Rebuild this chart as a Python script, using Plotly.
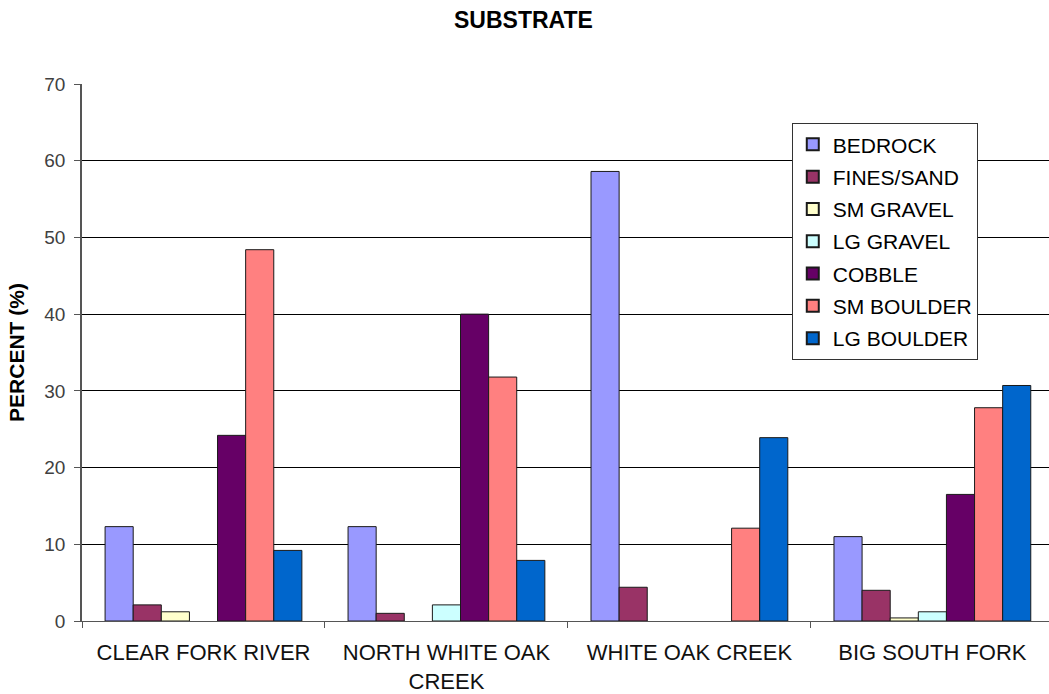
import plotly.graph_objects as go

# Sites along the x axis (line breaks as printed under the axis)
sites = ["CLEAR FORK RIVER", "NORTH WHITE OAK<br>CREEK", "WHITE OAK CREEK", "BIG SOUTH FORK"]

# Percent of each substrate class per site
bedrock = [12.3, 12.3, 58.6, 11.0]
fines_sand = [2.1, 1.0, 4.4, 4.0]
sm_gravel = [1.2, 0.0, 0.0, 0.4]
lg_gravel = [0.0, 2.1, 0.0, 1.2]
cobble = [24.2, 40.0, 0.0, 16.5]
sm_boulder = [48.4, 31.8, 12.1, 27.8]
lg_boulder = [9.2, 7.9, 23.9, 30.7]

y_ticks = [0, 10, 20, 30, 40, 50, 60, 70]

series = [
    ("BEDROCK", bedrock, "#9999FF"),
    ("FINES/SAND", fines_sand, "#993366"),
    ("SM GRAVEL", sm_gravel, "#FFFFCC"),
    ("LG GRAVEL", lg_gravel, "#CCFFFF"),
    ("COBBLE", cobble, "#660066"),
    ("SM BOULDER", sm_boulder, "#FF8080"),
    ("LG BOULDER", lg_boulder, "#0066CC"),
]

fig = go.Figure()
for name, vals, color in series:
    # empty classes get no outline so nothing is drawn on the baseline
    outline = [1 if v > 0 else 0 for v in vals]
    fig.add_trace(go.Bar(
        x=sites, y=vals, name=name, legendgroup=name,
        marker=dict(color=color, line=dict(color="#1a1a1a", width=outline)),
    ))

font_family = "Liberation Sans, Arial, sans-serif"

fig.update_layout(
    width=1049, height=694,
    paper_bgcolor="white", plot_bgcolor="white",
    margin=dict(l=82, r=0, t=84, b=73),
    barmode="group", bargap=0.19, bargroupgap=0,
    title=dict(text="<b>SUBSTRATE</b>", x=0.499, xanchor="center", y=0.971, yanchor="middle",
               font=dict(family=font_family, size=23, color="#000000")),
    font=dict(family=font_family, color="#000000"),
    showlegend=True,
    legend=dict(
        x=0.734, xanchor="left", y=0.927, yanchor="top",
        bgcolor="white", bordercolor="#333333", borderwidth=1,
        font=dict(family=font_family, size=21, color="#000000"),
        tracegroupgap=2, itemwidth=30, itemsizing="constant",
    ),
    xaxis=dict(
        type="category", range=[-0.5, 3.48],
        showline=True, linecolor="#555555", linewidth=1,
        ticks="outside", tickson="boundaries", ticklen=6, tickcolor="#555555",
        ticklabelstandoff=12,
        tickfont=dict(family=font_family, size=22, color="#111111"),
        showgrid=False, zeroline=False,
    ),
    yaxis=dict(
        range=[0, 70], tickvals=y_ticks,
        showline=True, linecolor="#555555", linewidth=1.5,
        ticks="outside", ticklen=6, tickcolor="#555555",
        ticklabelstandoff=5,
        tickfont=dict(family=font_family, size=19, color="#404040"),
        showgrid=True, gridcolor="#000000", gridwidth=1,
        zeroline=False,
        title=dict(text="<b>PERCENT (%)</b>", standoff=14,
                   font=dict(family=font_family, size=21, color="#000000")),
    ),
)

fig.write_html("out.html")
